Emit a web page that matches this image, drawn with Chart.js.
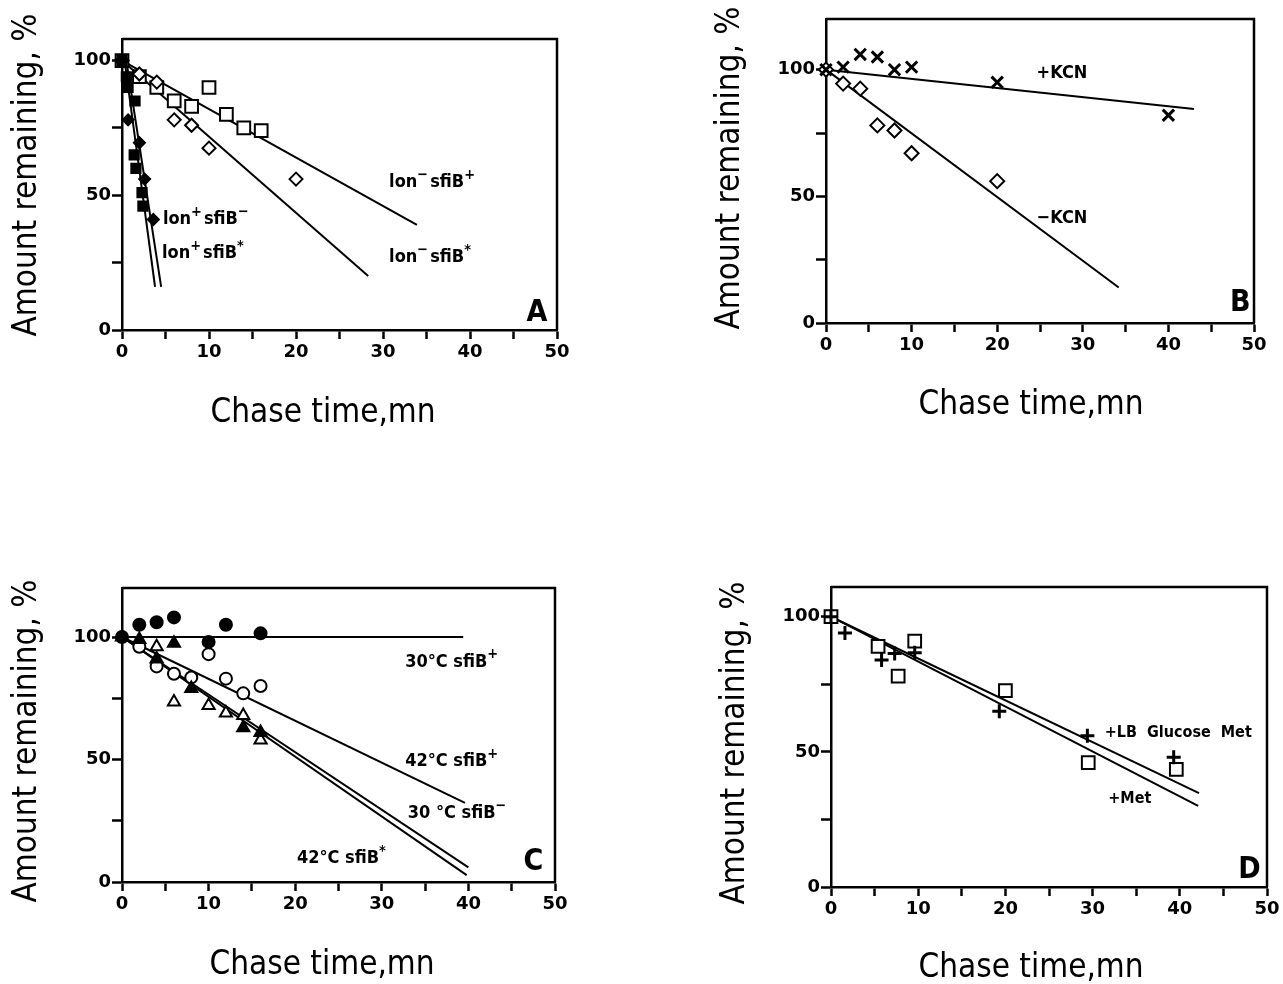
<!DOCTYPE html>
<html>
<head>
<meta charset="utf-8">
<script src="https://cdn.jsdelivr.net/npm/chart.js@4.4.1/dist/chart.umd.min.js"></script>
<style>
  body { margin: 0; background: #fff; width: 1283px; height: 984px; position: relative; overflow: hidden; }
  canvas { position: absolute; }
</style>
</head>
<body>
<canvas id="chartA" width="640" height="490" style="left:0;top:0"></canvas>
<canvas id="chartB" width="643" height="490" style="left:640px;top:0"></canvas>
<canvas id="chartC" width="640" height="494" style="left:0;top:490px"></canvas>
<canvas id="chartD" width="643" height="494" style="left:640px;top:490px"></canvas>
<script>
// axes
const xTickValues = [0, 5, 10, 15, 20, 25, 30, 35, 40, 45, 50];
const xTickLabels = [0, 10, 20, 30, 40, 50];
const yTickValues = [0, 25, 50, 75, 100];
const yTickLabels = [0, 50, 100];

// A : lon / sfiB
const aLonMinusSfiBPlus = [[0, 100], [2, 94], [4, 90], [6, 85], [8, 83], [10, 90], [12, 80], [14, 75], [16, 74]];
const aLonMinusSfiBStar = [[0, 100], [2, 95], [4, 92], [6, 78], [8, 76], [10, 67.5], [20, 56]];
const aLonPlusSfiBMinus = [[0, 100], [0.5, 94], [0.7, 90], [1.5, 85], [1.4, 65], [1.6, 60], [2.3, 51], [2.4, 46]];
const aLonPlusSfiBStar = [[0, 100], [0.7, 78], [2, 69.5], [2.6, 56], [3.6, 41]];
const aFitMinusPlus = [[0, 100], [33.9, 39]];
const aFitMinusStar = [[0, 100], [28.3, 20]];
const aFitPlusMinus = [[0.3, 100], [3.8, 16]];
const aFitPlusStar = [[0.5, 100], [4.5, 16]];

// B : KCN
const bWithKCN = [[0, 100], [2, 101], [4, 106], [6, 105], [8, 100], [10, 101], [20, 95], [40, 82]];
const bWithoutKCN = [[0, 100], [2, 94.5], [4, 92.5], [6, 78], [8, 76], [10, 67], [20, 56]];
const bFitWith = [[0, 100], [43, 84.5]];
const bFitWithout = [[0, 100], [34.2, 14]];

// C : temperature
const c30Plus = [[0, 100], [2, 105], [4, 106], [6, 108], [10, 98], [12, 105], [16, 101.5]];
const c42Plus = [[2, 96], [4, 88], [6, 85], [8, 83.5], [10, 93], [12, 83], [14, 77], [16, 80]];
const c30Minus = [[0, 100], [2, 99], [4, 91], [6, 97.5], [8, 79], [14, 63], [16, 61]];
const c42Star = [[4, 96], [6, 73.5], [10, 72], [12, 69], [14, 68], [16, 58]];
const cFit30Plus = [[0, 100], [39.4, 100]];
const cFit42Plus = [[0, 100], [39.6, 32.3]];
const cFit30Minus = [[0, 100], [40, 6]];
const cFit42Star = [[0, 100], [39.8, 2.8]];

// D : media
const dMet = [[0, 100], [5.4, 89], [7.7, 78], [9.6, 91], [20, 72.7], [29.5, 46], [39.6, 43.5]];
const dLBGlucoseMet = [[0, 100], [1.6, 94], [5.8, 84], [7.3, 86.4], [9.6, 86.7], [19.3, 65], [29.4, 56], [39.3, 48]];
const dFitLB = [[0, 100], [42.2, 34.7]];
const dFitMet = [[0, 100], [42.1, 30]];

const FONT = '"DejaVu Sans Condensed", "DejaVu Sans", sans-serif';
const TICK_FONT = { family: '"DejaVu Sans", sans-serif', size: 18, weight: 'bold' };

function pts(arr) {
    return arr.map(([x, y]) => ({ x: x, y: y }));
}

function markers(data, style, radius, filled, width) {
    return {
        data: pts(data),
        showLine: false,
        pointStyle: style,
        pointRadius: radius,
        pointBorderWidth: width || 2,
        pointBorderColor: '#000',
        pointBackgroundColor: filled ? '#000' : '#fff',
        clip: false
    };
}

function fitLine(data) {
    return {
        data: pts(data),
        showLine: true,
        pointRadius: 0,
        borderColor: '#000',
        borderWidth: 2,
        clip: false
    };
}

// text with raised parts, e.g. lon⁺sfiB⁻
function drawRich(ctx, x, y, parts, size) {
    let cx = x;
    parts.forEach(p => {
        const sup = p[1];
        const s = sup ? size * 0.8 : size;
        ctx.font = 'bold ' + s + 'px ' + FONT;
        ctx.fillText(p[0], cx, sup ? y - size * 0.45 : y);
        cx += ctx.measureText(p[0]).width + (sup ? 2 : 0);
    });
}

function makePanel(id, p) {
    const el = document.getElementById(id);
    const W = el.width, H = el.height;

    const framePlugin = {
        id: 'frame',
        afterDraw(chart) {
            const { ctx, chartArea: a, scales } = chart;
            ctx.save();
            ctx.strokeStyle = '#000';
            ctx.lineWidth = 2.5;
            ctx.beginPath();
            ctx.moveTo(a.left, a.top);
            ctx.lineTo(a.right, a.top);
            ctx.lineTo(a.right, a.bottom);
            ctx.stroke();

            ctx.fillStyle = '#000';
            ctx.textAlign = 'left';
            ctx.textBaseline = 'alphabetic';
            p.notes.forEach(n => {
                const px = scales.x.getPixelForValue(n.x);
                const py = scales.y.getPixelForValue(n.y);
                drawRich(ctx, px, py + n.size * 0.36, n.parts, n.size);
            });

            ctx.textAlign = 'center';
            ctx.textBaseline = 'middle';
            ctx.font = 'bold 30px ' + FONT;
            ctx.fillText(p.letter[2], scales.x.getPixelForValue(p.letter[0]), scales.y.getPixelForValue(p.letter[1]));

            ctx.font = '33px ' + FONT;
            ctx.fillText('Chase time,mn', p.xTitle[0], p.xTitle[1]);
            ctx.translate(p.yTitle[0], p.yTitle[1]);
            ctx.rotate(-Math.PI / 2);
            ctx.fillText('Amount remaining, %', 0, 0);
            ctx.restore();
        }
    };

    new Chart(el, {
        type: 'scatter',
        data: { datasets: p.datasets },
        options: {
            responsive: false,
            animation: false,
            layout: { padding: { left: 0, bottom: 0, top: p.area.t, right: W - p.area.r } },
            plugins: { legend: { display: false }, tooltip: { enabled: false } },
            scales: {
                x: {
                    type: 'linear', min: 0, max: 50,
                    afterBuildTicks: s => { s.ticks = xTickValues.map(v => ({ value: v })); },
                    afterFit: s => { s.height = H - p.area.b; s.paddingLeft = 0; s.paddingRight = 0; },
                    ticks: {
                        autoSkip: false, maxRotation: 0, padding: 3, color: '#000',
                        font: TICK_FONT,
                        callback: v => xTickLabels.includes(v) ? String(v) : ''
                    },
                    grid: { drawOnChartArea: false, drawTicks: true, tickLength: 9, tickWidth: 2.5, tickColor: '#000' },
                    border: { display: true, color: '#000', width: 2.5 }
                },
                y: {
                    type: 'linear', min: 0, max: p.yMax,
                    afterBuildTicks: s => { s.ticks = yTickValues.map(v => ({ value: v })); },
                    afterFit: s => { s.width = p.area.l; s.paddingTop = 0; s.paddingBottom = 0; },
                    ticks: {
                        autoSkip: false, padding: 1, color: '#000',
                        font: TICK_FONT,
                        callback: v => yTickLabels.includes(v) ? String(v) : ''
                    },
                    grid: { drawOnChartArea: false, drawTicks: true, tickLength: 10, tickWidth: 2.5, tickColor: '#000' },
                    border: { display: true, color: '#000', width: 2.5 }
                }
            }
        },
        plugins: [framePlugin]
    });
}

makePanel('chartA', {
    area: { l: 122, t: 39, r: 557, b: 330 },
    yMax: 108,
    datasets: [
        markers(aLonPlusSfiBMinus, 'rect', 6.5, true),
        markers(aLonPlusSfiBStar, 'rectRot', 5.5, true),
        markers(aLonMinusSfiBStar, 'rectRot', 6.5, false),
        markers(aLonMinusSfiBPlus, 'rect', 9, false),
        fitLine(aFitMinusPlus), fitLine(aFitMinusStar), fitLine(aFitPlusMinus), fitLine(aFitPlusStar)
    ],
    notes: [
        { x: 30.7, y: 55.4, size: 18, parts: [['lon'], ['\u2212', 1], ['sfiB'], ['+', 1]] },
        { x: 30.7, y: 27.5, size: 18, parts: [['lon'], ['\u2212', 1], ['sfiB'], ['*', 1]] },
        { x: 4.7, y: 41.6, size: 18, parts: [['lon'], ['+', 1], ['sfiB'], ['\u2212', 1]] },
        { x: 4.6, y: 29, size: 18, parts: [['lon'], ['+', 1], ['sfiB'], ['*', 1]] }
    ],
    letter: [47.7, 6.3, 'A'],
    xTitle: [323, 413],
    yTitle: [27, 175]
});

makePanel('chartB', {
    area: { l: 186, t: 19, r: 614, b: 323 },
    yMax: 120,
    datasets: [
        markers(bWithKCN, 'crossRot', 8, false, 3),
        markers(bWithoutKCN, 'rectRot', 7, false),
        fitLine(bFitWith), fitLine(bFitWithout)
    ],
    notes: [
        { x: 24.6, y: 99.2, size: 18, parts: [['+KCN']] },
        { x: 24.6, y: 42, size: 18, parts: [['\u2212KCN']] }
    ],
    letter: [48.4, 7.9, 'B'],
    xTitle: [391, 405],
    yTitle: [90, 168]
});

makePanel('chartC', {
    area: { l: 122, t: 98, r: 555, b: 392 },
    yMax: 120,
    datasets: [
        markers(c30Plus, 'circle', 6, true),
        markers(c30Minus, 'triangle', 7, true),
        markers(c42Plus, 'circle', 6, false),
        markers(c42Star, 'triangle', 7, false),
        fitLine(cFit30Plus), fitLine(cFit42Plus), fitLine(cFit30Minus), fitLine(cFit42Star)
    ],
    notes: [
        { x: 32.7, y: 90.6, size: 18, parts: [['30\u00b0C sfiB'], ['+', 1]] },
        { x: 32.7, y: 49.8, size: 18, parts: [['42\u00b0C sfiB'], ['+', 1]] },
        { x: 33, y: 28.6, size: 18, parts: [['30 \u00b0C sfiB'], ['\u2212', 1]] },
        { x: 20.2, y: 10.2, size: 18, parts: [['42\u00b0C sfiB'], ['*', 1]] }
    ],
    letter: [47.5, 8.2, 'C'],
    xTitle: [322, 475],
    yTitle: [27, 251]
});

makePanel('chartD', {
    area: { l: 191, t: 97, r: 627, b: 397 },
    yMax: 111,
    datasets: [
        markers(dLBGlucoseMet, 'cross', 7, false, 3),
        markers(dMet, 'rect', 9, false),
        fitLine(dFitLB), fitLine(dFitMet)
    ],
    notes: [
        { x: 31.4, y: 57.6, size: 16, parts: [['+LB  Glucose  Met']] },
        { x: 31.8, y: 33.2, size: 16, parts: [['+Met']] }
    ],
    letter: [48, 6.3, 'D'],
    xTitle: [391, 478],
    yTitle: [95, 253]
});
</script>
</body>
</html>
